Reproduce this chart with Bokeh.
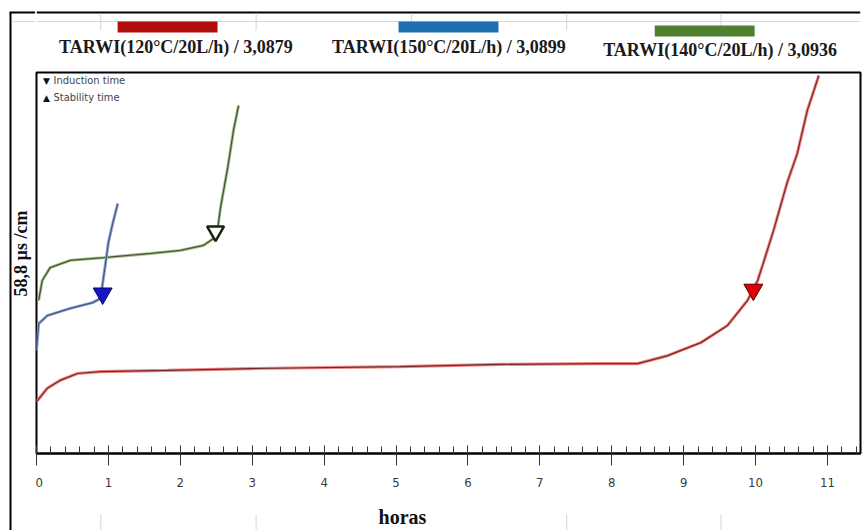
import math
from bokeh.plotting import figure
from bokeh.layouts import column, row
from bokeh.models import Range1d, Label, FixedTicker
from bokeh.core.properties import value
from bokeh.embed import file_html
from bokeh.resources import INLINE

# ---------------- data (hours, conductivity in arbitrary units 0-100) -------------
red_h = [0.0, 0.06, 0.15, 0.33, 0.57, 0.89, 1.82, 2.98, 5.06, 6.45, 7.84, 8.36, 8.78,
         9.24, 9.61, 9.89, 10.03, 10.11, 10.25, 10.44, 10.58, 10.72, 10.88]
red_y = [13.6, 15.0, 17.1, 19.2, 21.0, 21.5, 21.8, 22.3, 22.8, 23.4, 23.6, 23.6, 25.7,
         29.1, 33.6, 40.2, 45.4, 50.1, 58.5, 71.1, 78.7, 90.0, 99.2]

green_h = [0.03, 0.08, 0.19, 0.47, 0.93, 1.59, 2.00, 2.32, 2.46, 2.52, 2.56, 2.66, 2.74, 2.81]
green_y = [40.2, 45.4, 48.8, 50.7, 51.4, 52.5, 53.3, 54.6, 56.4, 59.1, 64.6, 75.1, 84.8, 91.3]

blue_h = [0.0, 0.03, 0.15, 0.47, 0.78, 0.89, 0.96, 1.00, 1.06, 1.13]
blue_y = [27.0, 34.1, 36.2, 38.1, 39.6, 40.7, 49.9, 55.4, 60.4, 65.6]

# induction-time markers (hour, value)
red_mark = (9.97, 43.0)
green_mark = (2.49, 58.3)
blue_mark = (0.92, 42.0)

series_labels = ["TARWI(120°C/20L/h) / 3,0879",
                 "TARWI(150°C/20L/h) / 3,0899",
                 "TARWI(140°C/20L/h) / 3,0936"]
series_colors = ["#b30d0d", "#1f6db3", "#4f8030"]

x_ticks = list(range(0, 12))
x_label = "horas"
y_label = "58,8 µs /cm"

W, H = 868, 530
L_W = 35          # left strip width
T_H = 71          # top strip height
B_TOP = 500       # where the bottom strip starts
SERIF = "Liberation Serif"
NARROW = "DejaVu Sans Condensed, Liberation Sans, sans-serif"


def strip(x0, x1, y_top, y_bot):
    """A blank figure whose frame fills it; coordinates are page pixels."""
    f = figure(width=x1 - x0, height=y_bot - y_top, output_backend="svg",
               toolbar_location=None, title=None,
               x_range=Range1d(x0, x1), y_range=Range1d(y_bot, y_top),
               min_border=0, min_border_left=0, min_border_right=0,
               min_border_top=0, min_border_bottom=0)
    f.axis.visible = False
    f.grid.visible = False
    f.outline_line_color = None
    f.background_fill_color = "white"
    f.border_fill_color = "white"
    return f


# ---------------- left strip (full height): frame lines + y label -------------------
left = strip(0, L_W, 0, H)
left.segment(x0=[10], y0=[12], x1=[10], y1=[H], line_color="black", line_width=2)
left.segment(x0=[9], y0=[12], x1=[L_W], y1=[12], line_color="black", line_width=2)
left.segment(x0=[11], y0=[21], x1=[L_W], y1=[21], line_color="#d8d8d8", line_width=1)
left.text(x=[20], y=[253], text=[y_label], angle=math.pi / 2,
          text_font=value(SERIF), text_font_style="bold", text_font_size="18px",
          text_color="#111111", text_align="center", text_baseline="middle")

# ---------------- top strip: frame line + colour-bar legend --------------------------
top = strip(L_W, W, 0, T_H)
top.segment(x0=[L_W], y0=[12], x1=[W], y1=[12], line_color="black", line_width=2)
top.segment(x0=[L_W], y0=[21], x1=[W], y1=[21], line_color="#d8d8d8", line_width=1)
top.segment(x0=[100, 257, 414, 571, 727], y0=[13] * 5, x1=[100, 257, 414, 571, 727],
            y1=[30] * 5, line_color="#d4d4d4", line_width=1)
top.quad(left=[117, 401, 660], right=[218, 502, 761], top=[21, 21, 25], bottom=[32, 32, 36],
         fill_color=series_colors, line_color=None)
top.text(x=[176, 452, 726], y=[46, 46, 49], text=series_labels,
         text_font=value(SERIF), text_font_style="bold", text_font_size="18px",
         text_color="#1a1a1a", text_align="center", text_baseline="middle")

# ---------------- main chart ---------------------------------------------------------
X_END = 11.46
M_H = B_TOP - T_H
p = figure(width=W - L_W, height=M_H, output_backend="svg", toolbar_location=None,
           x_range=Range1d(0, X_END), y_range=Range1d(0, 100),
           min_border_left=1, min_border_right=8, min_border_top=1,
           min_border_bottom=M_H - 1 - 381)
p.xgrid.visible = False
p.ygrid.visible = False
p.yaxis.visible = False
p.outline_line_color = "black"
p.outline_line_width = 2
p.background_fill_color = "white"
p.border_fill_color = "white"

ax = p.xaxis[0]
ax.ticker = FixedTicker(ticks=x_ticks,
                        minor_ticks=[i / 5 for i in range(0, int(X_END * 5) + 1)])
ax.axis_line_width = 2
ax.axis_line_color = "black"
ax.major_tick_in = 8
ax.major_tick_out = 12
ax.minor_tick_in = 7
ax.minor_tick_out = 0
ax.major_tick_line_color = "#333333"
ax.minor_tick_line_color = "#333333"
ax.major_label_text_font = NARROW
ax.major_label_text_font_size = "13px"
ax.major_label_text_color = "#3a3a3a"
ax.major_label_standoff = 12


def px2x(px):
    return (px - 36) / 71.9


def px2y(py):
    return (453 - py) / 3.81


# curves (halo + core)
p.line(red_h, red_y, line_color="#f08a8a", line_width=3.2)
p.line(red_h, red_y, line_color="#7a2424", line_width=1.2)
p.line(green_h, green_y, line_color="#a9c194", line_width=3.0)
p.line(green_h, green_y, line_color="#48582e", line_width=1.3)
p.line(blue_h, blue_y, line_color="#8fa8dc", line_width=3.0)
p.line(blue_h, blue_y, line_color="#4a5878", line_width=1.2)

p.scatter([red_mark[0]], [red_mark[1]], marker="inverted_triangle", size=19,
          fill_color="#e00000", line_color="#5a0000", line_width=1)
p.scatter([blue_mark[0]], [blue_mark[1]], marker="inverted_triangle", size=19,
          fill_color="#1414c8", line_color="#0a0a60", line_width=1)
p.scatter([green_mark[0]], [green_mark[1]], marker="inverted_triangle", size=17,
          fill_color="white", line_color="#1a2410", line_width=2.5)

# inner legend
for txt_sym, txt, py in [("▼", "Induction time", 80), ("▲", "Stability time", 97)]:
    p.add_layout(Label(x=px2x(46), y=px2y(py), text=txt_sym, text_font="DejaVu Sans",
                       text_font_size="9px", text_color="#111111",
                       text_align="center", text_baseline="middle"))
    p.add_layout(Label(x=px2x(53), y=px2y(py), text=txt, text_font=NARROW,
                       text_font_size="11px", text_color="#444444",
                       text_align="left", text_baseline="middle"))

# ---------------- bottom strip: x label ---------------------------------------------
bottom = strip(L_W, W, B_TOP, H)
bottom.segment(x0=[100, 257, 571, 727], y0=[514] * 4, x1=[100, 257, 571, 727],
               y1=[H] * 4, line_color="#d4d4d4", line_width=1)
bottom.text(x=[405], y=[516], text=[x_label], text_font=value(SERIF),
            text_font_style="bold", text_font_size="20px", text_color="#111111",
            text_align="center", text_baseline="middle")

layout = row(left, column(top, p, bottom, spacing=0), spacing=0)
open("out.html", "w").write(file_html(layout, INLINE))
